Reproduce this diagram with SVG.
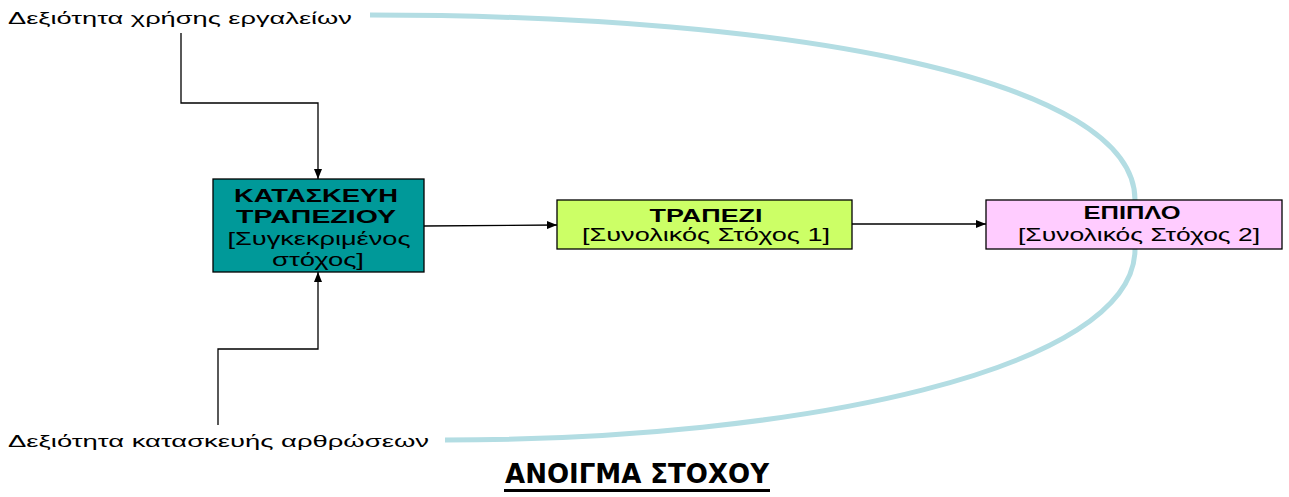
<svg xmlns="http://www.w3.org/2000/svg" width="1289" height="497" viewBox="0 0 1289 497">
<defs>
<marker id="ah" markerWidth="10" markerHeight="8" refX="10" refY="4" orient="auto" markerUnits="userSpaceOnUse">
<path d="M0,0 L10,4 L0,8 Z" fill="#000"/>
</marker>
<style>
.lbl{font-family:"Liberation Sans",Arial,sans-serif;font-size:17px;fill:#000}
.bt{font-family:"Liberation Sans",Arial,sans-serif;font-size:18px;fill:#000;text-anchor:middle}
.b{font-weight:bold}
.box{stroke:#000;stroke-width:1.3}
.con{fill:none;stroke:#000;stroke-width:1.3}
.arc{fill:none;stroke:#b3dde3;stroke-width:5}
</style>
</defs>
<rect width="1289" height="497" fill="#fff"/>
<g id="arcs">
<path class="arc" d="M370,15 C800,15 1135,80 1135,200"/>
<path class="arc" d="M1135,249 C1135,370 800,440 445,440"/>
</g>
<g id="connectors">
<polyline class="con" points="181,33 181,103 318,103 318,179" marker-end="url(#ah)"/>
<polyline class="con" points="218,425 218,349 318,349 318,272" marker-end="url(#ah)"/>
<line class="con" x1="424" y1="226" x2="557" y2="225" marker-end="url(#ah)"/>
<line class="con" x1="852" y1="224" x2="986" y2="224" marker-end="url(#ah)"/>
</g>
<g id="label-top"><text class="lbl" x="8" y="24" textLength="344" lengthAdjust="spacingAndGlyphs">Δεξιότητα χρήσης εργαλείων</text></g>
<g id="label-bottom"><text class="lbl" x="8" y="447" textLength="421" lengthAdjust="spacingAndGlyphs">Δεξιότητα κατασκευής αρθρώσεων</text></g>
<g id="node-kataskeui">
<rect class="box" x="213" y="179" width="211" height="93" fill="#009999"/>
<text class="bt b" x="316" y="202" textLength="164" lengthAdjust="spacingAndGlyphs">ΚΑΤΑΣΚΕΥΗ</text>
<text class="bt b" x="316" y="223" textLength="160" lengthAdjust="spacingAndGlyphs">ΤΡΑΠΕΖΙΟΥ</text>
<text class="bt" x="319" y="245" textLength="183" lengthAdjust="spacingAndGlyphs">[Συγκεκριμένος</text>
<text class="bt" x="318" y="266" textLength="92" lengthAdjust="spacingAndGlyphs">στόχος]</text>
</g>
<g id="node-trapezi">
<rect class="box" x="557" y="200" width="295" height="49" fill="#ccff66"/>
<text class="bt b" x="706" y="222" textLength="113" lengthAdjust="spacingAndGlyphs">ΤΡΑΠΕΖΙ</text>
<text class="bt" x="706" y="241" textLength="248" lengthAdjust="spacingAndGlyphs">[Συνολικός Στόχος 1]</text>
</g>
<g id="node-epiplo">
<rect class="box" x="986" y="200" width="296" height="49" fill="#ffccff"/>
<text class="bt b" x="1132" y="219" textLength="97" lengthAdjust="spacingAndGlyphs">ΕΠΙΠΛΟ</text>
<text class="bt" x="1139" y="241" textLength="242" lengthAdjust="spacingAndGlyphs">[Συνολικός Στόχος 2]</text>
</g>
<g id="title">
<text x="637" y="483" text-anchor="middle" font-family="DejaVu Sans,sans-serif" font-weight="bold" font-size="27" textLength="264" lengthAdjust="spacingAndGlyphs">ΑΝΟΙΓΜΑ ΣΤΟΧΟΥ</text>
<rect x="504" y="489" width="266" height="3" fill="#000"/>
</g>
</svg>
